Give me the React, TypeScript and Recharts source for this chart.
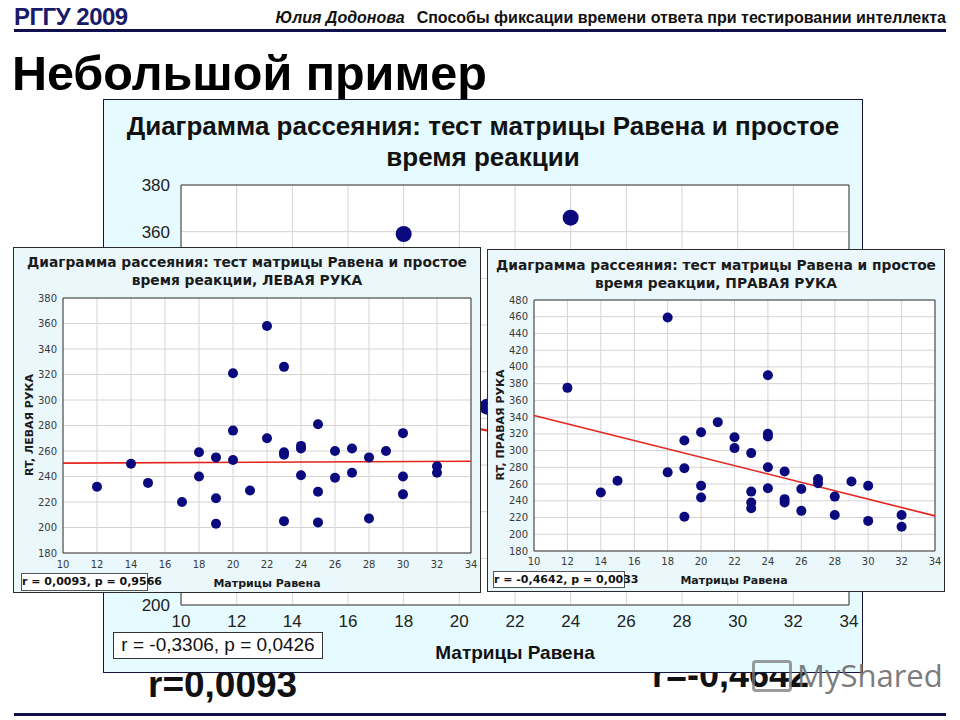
import React from 'react';
import { ScatterChart, Scatter, XAxis, YAxis, CartesianGrid, ReferenceArea, ReferenceLine } from 'recharts';

// Raven matrices score (x) vs reaction time (y)
const ravenTicks = [10, 12, 14, 16, 18, 20, 22, 24, 26, 28, 30, 32, 34];
const leftTicksY = [180, 200, 220, 240, 260, 280, 300, 320, 340, 360, 380];
const rightTicksY = [180, 200, 220, 240, 260, 280, 300, 320, 340, 360, 380, 400, 420, 440, 460, 480];
const bigTicksY = [200, 220, 240, 260, 280, 300, 320, 340, 360, 380];

const leftRaven = [12, 14, 15, 17, 18, 18, 19, 19, 19, 20, 20, 20, 21, 22, 22, 23, 23, 23, 23, 24, 24, 24, 25, 25, 25, 26, 26, 27, 27, 28, 28, 29, 30, 30, 30, 32, 32];
const leftRT = [232, 250, 235, 220, 259, 240, 255, 223, 203, 321, 276, 253, 229, 358, 270, 326, 259, 257, 205, 264, 262, 241, 281, 228, 204, 260, 239, 262, 243, 255, 207, 260, 274, 240, 226, 248, 243];

const rightRaven = [12, 14, 15, 18, 18, 19, 19, 19, 20, 20, 20, 21, 22, 22, 23, 23, 23, 23, 24, 24, 24, 24, 24, 25, 25, 25, 26, 26, 27, 27, 28, 28, 29, 30, 30, 32, 32];
const rightRT = [375, 250, 264, 459, 274, 312, 279, 221, 322, 258, 244, 334, 316, 303, 297, 251, 238, 231, 390, 320, 317, 280, 255, 275, 242, 238, 254, 228, 266, 261, 245, 223, 263, 258, 216, 223, 209];

// only the points of the combined chart that are not hidden by the insets
const bigRaven = [18, 24, 21];
const bigRT = [359, 366, 285];

const leftFit = [{ x: 10, y: 250.5 }, { x: 34, y: 252 }];
const rightFit = [{ x: 10, y: 342 }, { x: 34, y: 222 }];
const bigFit = [{ x: 10, y: 300 }, { x: 34, y: 245 }];

const toPoints = (xs: number[], ys: number[]) => xs.map((x, i) => ({ x, y: ys[i] }));

const DOT = '#0a0a7e';
const RED = '#e3231c';
const INSET_FONT = "'DejaVu Sans', Verdana, sans-serif";
const SLIDE_FONT = "'Liberation Sans', Arial, sans-serif";

const dot = (r: number) => (p: any) => <circle cx={p.cx} cy={p.cy} r={r} fill={DOT} />;

type PlotProps = {
  width: number; height: number;
  margin: { top: number; right: number; bottom: number; left: number };
  yWidth: number; xHeight: number;
  yDomain: [number, number]; yTicks: number[];
  points: { x: number; y: number }[];
  fit: { x: number; y: number }[];
  dotR: number; fontSize: number; fontFamily: string;
  yTickGap: number; xTickGap: number; fitWidth: number; tickColor: string;
};

function Plot(p: PlotProps) {
  const tick = { fontSize: p.fontSize, fill: p.tickColor, fontFamily: p.fontFamily };
  return (
    <ScatterChart width={p.width} height={p.height} margin={p.margin} style={{ position: 'absolute', left: 0, top: 0 }}>
      <CartesianGrid stroke="#d4d4d4" fill="#ffffff" horizontalValues={p.yTicks} verticalValues={ravenTicks} />
      <XAxis type="number" dataKey="x" domain={[10, 34]} ticks={ravenTicks} height={p.xHeight}
             axisLine={false} tickLine={false} tickSize={0} tickMargin={p.xTickGap} tick={tick} interval={0} />
      <YAxis type="number" dataKey="y" domain={p.yDomain} ticks={p.yTicks} width={p.yWidth}
             axisLine={false} tickLine={false} tickSize={0} tickMargin={p.yTickGap} tick={tick} interval={0} />
      <ReferenceArea x1={10} x2={34} y1={p.yDomain[0]} y2={p.yDomain[1]} fill="none" stroke="#3a3a3a" strokeWidth={1} />
      <Scatter data={p.points} shape={dot(p.dotR)} isAnimationActive={false} />
      <ReferenceLine segment={p.fit} stroke={RED} strokeWidth={p.fitWidth} />
    </ScatterChart>
  );
}

function Inset(props: {
  left: number; top: number; width: number; height: number; title2: string;
  yLabel: string; yLabelPos: [number, number]; xLabelPos: [number, number];
  rText: string; rBox: [number, number, number, number]; titleTop: number;
  children: React.ReactNode;
}) {
  const { left, top, width, height } = props;
  return (
    <div style={{ position: 'absolute', left, top, width, height, background: '#eaf8fc', outline: '1.5px solid #2b2b2b', outlineOffset: -1, fontFamily: INSET_FONT }}>
      {props.children}
      <div style={{ position: 'absolute', left: 0, top: props.titleTop, width, textAlign: 'center', fontWeight: 'bold', fontSize: 13.8, lineHeight: '18px', color: '#1b1b1b', whiteSpace: 'nowrap' }}>
        Диаграмма рассеяния: тест матрицы Равена и простое<br />{props.title2}
      </div>
      <div style={{ position: 'absolute', left: props.yLabelPos[0], top: props.yLabelPos[1], transform: 'translate(-50%, -50%) rotate(-90deg)', whiteSpace: 'nowrap', fontWeight: 'bold', fontSize: 11, color: '#1b1b1b' }}>
        {props.yLabel}
      </div>
      <div style={{ position: 'absolute', left: props.xLabelPos[0], top: props.xLabelPos[1], transform: 'translate(-50%, -50%)', whiteSpace: 'nowrap', fontWeight: 'bold', fontSize: 11, color: '#1b1b1b' }}>
        Матрицы Равена
      </div>
      <div style={{ position: 'absolute', left: props.rBox[0], top: props.rBox[1], width: props.rBox[2], height: props.rBox[3], boxSizing: 'border-box', border: '1px solid #555', background: '#fff', fontWeight: 'bold', fontSize: 11, lineHeight: `${props.rBox[3] - 2}px`, textAlign: 'center', whiteSpace: 'nowrap', color: '#111' }}>
        {props.rText}
      </div>
    </div>
  );
}

export default function App() {
  return (
    <div style={{ position: 'absolute', left: 0, top: 0, width: 960, height: 720, background: '#fff', overflow: 'hidden', fontFamily: SLIDE_FONT }}>
      {/* header */}
      <div style={{ position: 'absolute', left: 14, top: 3, fontSize: 24, fontWeight: 'bold', color: '#1a1a6a', letterSpacing: -0.5 }}>РГГУ 2009</div>
      <div style={{ position: 'absolute', right: 14, top: 9, fontSize: 16, fontWeight: 'bold', color: '#111', whiteSpace: 'nowrap' }}>
        <span style={{ fontStyle: 'italic', marginRight: 12 }}>Юлия Додонова</span>Способы фиксации времени ответа при тестировании интеллекта
      </div>
      <div style={{ position: 'absolute', left: 14, top: 29, width: 932, height: 3, background: '#10104e' }} />
      <div style={{ position: 'absolute', left: 12, top: 45, fontSize: 48.5, fontWeight: 'bold', color: '#000', whiteSpace: 'nowrap' }}>Небольшой пример</div>

      {/* texts below the big chart, partly covered by it */}
      <div style={{ position: 'absolute', left: 148, top: 664, fontSize: 37, fontWeight: 'bold', color: '#111', whiteSpace: 'nowrap' }}>r=0,0093</div>
      <div style={{ position: 'absolute', left: 652, top: 654, fontSize: 36, fontWeight: 'bold', color: '#111', whiteSpace: 'nowrap' }}>r=-0,4642</div>

      {/* combined chart behind */}
      <div style={{ position: 'absolute', left: 103, top: 99, width: 760, height: 574, background: '#e6fbff', outline: '1px solid #14143c', outlineOffset: -1 }}>
        <Plot width={760} height={574} margin={{ top: 86, right: 14, bottom: 38, left: 0 }} yWidth={78} xHeight={30}
              yDomain={[200, 380]} yTicks={bigTicksY} points={toPoints(bigRaven, bigRT)} fit={bigFit}
              dotR={8} fontSize={17} fontFamily={SLIDE_FONT} yTickGap={11} xTickGap={10} fitWidth={2} tickColor="#222" />
        <div style={{ position: 'absolute', left: 0, top: 12, width: 760, textAlign: 'center', fontSize: 26, fontWeight: 'bold', lineHeight: '31px', color: '#111', whiteSpace: 'nowrap' }}>
          Диаграмма рассеяния: тест матрицы Равена и простое<br />время реакции
        </div>
        <div style={{ position: 'absolute', left: 412, top: 554, transform: 'translate(-50%, -50%)', fontSize: 19, fontWeight: 'bold', color: '#111', whiteSpace: 'nowrap' }}>Матрицы Равена</div>
        <div style={{ position: 'absolute', left: 10, top: 533, width: 210, height: 27, boxSizing: 'border-box', border: '1.5px solid #333', background: '#fff', fontSize: 19, lineHeight: '24px', textAlign: 'center', whiteSpace: 'nowrap', color: '#111' }}>
          r = -0,3306, p = 0,0426
        </div>
      </div>

      {/* left hand */}
      <Inset left={13} top={247} width={468} height={346} title2="время реакции, ЛЕВАЯ РУКА" titleTop={6}
             yLabel="RT, ЛЕВАЯ РУКА" yLabelPos={[16, 178]} xLabelPos={[254, 336]}
             rText="r = 0,0093, p = 0,9566" rBox={[8, 326, 127, 18]}>
        <Plot width={468} height={346} margin={{ top: 51, right: 10, bottom: 22, left: 0 }} yWidth={50} xHeight={18}
              yDomain={[180, 380]} yTicks={leftTicksY} points={toPoints(leftRaven, leftRT)} fit={leftFit}
              dotR={5} fontSize={10} fontFamily={INSET_FONT} yTickGap={6} xTickGap={8} fitWidth={1.6} tickColor="#3a3a3a" />
      </Inset>

      {/* right hand */}
      <Inset left={487} top={249} width={458} height={343} title2="время реакции, ПРАВАЯ РУКА" titleTop={7}
             yLabel="RT, ПРАВАЯ РУКА" yLabelPos={[13, 176]} xLabelPos={[247, 331]}
             rText="r = -0,4642, p = 0,0033" rBox={[6, 322, 132, 17]}>
        <Plot width={458} height={343} margin={{ top: 51, right: 10, bottom: 23, left: 0 }} yWidth={47} xHeight={18}
              yDomain={[180, 480]} yTicks={rightTicksY} points={toPoints(rightRaven, rightRT)} fit={rightFit}
              dotR={5} fontSize={10} fontFamily={INSET_FONT} yTickGap={6} xTickGap={7} fitWidth={1.6} tickColor="#3a3a3a" />
      </Inset>

      {/* watermark */}
      <div style={{ position: 'absolute', left: 752, top: 660, width: 34, height: 26, border: '3px solid #7a7a7a', borderRadius: 4, opacity: 0.75 }} />
      <div style={{ position: 'absolute', left: 797, top: 654, fontSize: 31, color: '#6e6e6e', fontFamily: "'Open Sans', sans-serif", opacity: 0.9, whiteSpace: 'nowrap' }}>MyShared</div>

      {/* footer line */}
      <div style={{ position: 'absolute', left: 14, top: 713, width: 932, height: 3, background: '#10104e' }} />
    </div>
  );
}
